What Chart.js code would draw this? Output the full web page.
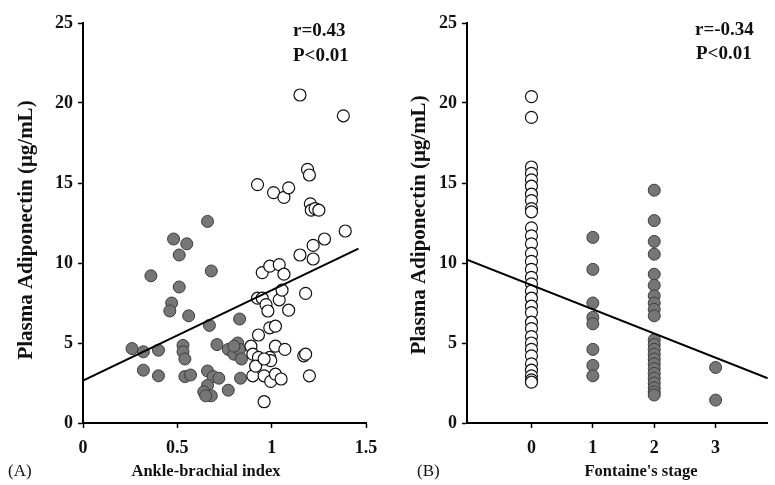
<!DOCTYPE html>
<html>
<head>
<meta charset="utf-8">
<title>Plasma adiponectin vs ABI and Fontaine's stage</title>
<script src="https://cdn.jsdelivr.net/npm/chart.js@4.4.0/dist/chart.umd.min.js"></script>
<style>
    body { margin: 0; background: #fff; }
    #wrap { position: relative; width: 775px; height: 485px; }
    canvas { position: absolute; top: 0; }
    #chartA { left: 0; }
    #chartB { left: 390px; }
</style>
</head>
<body>
<div id="wrap">
    <canvas id="chartA" width="390" height="485"></canvas>
    <canvas id="chartB" width="385" height="485"></canvas>
</div>
<script>
// Panel A: ankle-brachial index (x) vs plasma adiponectin (y)
const abiGrayX = [0.66, 0.48, 0.55, 0.51, 0.68, 0.36, 0.51, 0.47, 0.46, 0.56, 0.83, 0.67,
    0.26, 0.32, 0.40, 0.53, 0.53, 0.54, 0.71, 0.77, 0.80, 0.82, 0.83, 0.84, 0.80,
    0.32, 0.40, 0.54, 0.57, 0.66, 0.69, 0.72, 0.66, 0.64, 0.68, 0.65, 0.77, 0.835];
const abiGrayY = [12.6, 11.5, 11.2, 10.5, 9.5, 9.2, 8.5, 7.5, 7.0, 6.7, 6.5, 6.1,
    4.65, 4.45, 4.55, 4.85, 4.45, 4.0, 4.9, 4.6, 4.3, 5.0, 4.6, 4.0, 4.8,
    3.3, 2.95, 2.9, 3.0, 3.25, 2.9, 2.8, 2.35, 1.95, 1.7, 1.7, 2.05, 2.8];
const abiOpenX = [1.15, 1.38, 0.925, 1.01, 1.065, 1.09, 1.19, 1.20, 1.205, 1.21, 1.23, 1.25,
    1.39, 1.28, 1.22, 1.22, 1.15, 1.18, 0.95, 0.99, 1.04, 1.065, 0.925, 0.95, 0.97, 0.98,
    1.04, 1.055, 1.09, 0.99, 1.02, 0.93, 0.89, 0.90, 0.93, 0.99, 0.995, 1.02, 1.07, 1.17,
    1.18, 0.90, 0.915, 0.96, 0.995, 1.02, 1.05, 1.20, 0.96, 0.96];
const abiOpenY = [20.5, 19.2, 14.9, 14.4, 14.1, 14.7, 15.85, 15.5, 13.7, 13.3, 13.4, 13.3,
    12.0, 11.5, 11.1, 10.25, 10.5, 8.1, 9.4, 9.8, 9.9, 9.3, 7.8, 7.8, 7.4, 7.0,
    7.7, 8.3, 7.05, 5.95, 6.05, 5.5, 4.8, 4.3, 4.1, 4.1, 3.9, 4.8, 4.6, 4.2,
    4.3, 2.95, 3.55, 2.95, 2.6, 3.05, 2.75, 2.95, 1.33, 4.0];
const abiFitX = [0, 1.46];
const abiFitY = [2.65, 10.9];
const abiTicks = [0, 0.5, 1, 1.5];

// Panel B: Fontaine's stage (x) vs plasma adiponectin (y)
const stageTicks = [0, 1, 2, 3];
const stage0Open = [20.4, 19.1, 16.0, 15.6, 15.2, 14.8, 14.3, 13.9, 13.4, 13.2, 12.2, 11.7,
    11.2, 10.6, 10.1, 9.6, 9.1, 8.7, 8.25, 7.8, 7.3, 6.9, 6.3, 5.9, 5.4, 5.0, 4.6, 4.2,
    3.7, 3.3, 2.95, 2.7, 2.55];
const stage1Gray = [11.6, 9.6, 7.5, 6.6, 6.2, 4.6, 3.6, 2.95];
const stage2Gray = [14.55, 12.65, 11.35, 10.55, 9.3, 8.6, 7.95, 7.5, 7.1, 6.7, 5.2, 4.9,
    4.6, 4.3, 4.0, 3.7, 3.4, 3.1, 2.8, 2.5, 2.2, 1.95, 1.75];
const stage3Gray = [3.47, 1.43];
const stageFitX = [-1.05, 3.85];
const stageFitY = [10.2, 2.8];

const yTicks = [0, 5, 10, 15, 20, 25];

const SERIF = "'Liberation Serif', 'Times New Roman', serif";

function toPoints(xs, ys) {
    return xs.map((x, i) => ({ x: x, y: ys[i] }));
}

function column(x, ys) {
    return ys.map(y => ({ x: x, y: y }));
}

// draws the free texts (axis titles, panel letters, statistics)
const panelText = {
    id: 'panelText',
    afterDraw(chart, args, opts) {
        const ctx = chart.ctx;
        opts.items.forEach(t => {
            ctx.save();
            ctx.fillStyle = '#111';
            ctx.font = t.font;
            ctx.textAlign = t.align || 'left';
            ctx.textBaseline = 'middle';
            ctx.translate(t.x, t.y);
            if (t.rotate) ctx.rotate(t.rotate);
            ctx.fillText(t.text, 0, 0);
            ctx.restore();
        });
    }
};

function fitLine(data) {
    return {
        data: data,
        showLine: true,
        borderColor: '#000',
        borderWidth: 2,
        pointRadius: 0,
        order: 0
    };
}

function openDots(data) {
    return {
        data: data,
        backgroundColor: '#fff',
        borderColor: '#111',
        borderWidth: 1.2,
        pointRadius: 6,
        order: 1
    };
}

function grayDots(data) {
    return {
        data: data,
        backgroundColor: '#767676',
        borderColor: '#3c3c3c',
        borderWidth: 1,
        pointRadius: 6,
        order: 2
    };
}

function makeOptions(xMin, xMax, xTicks, yAxisWidth, padRight, texts) {
    const tickFont = { family: SERIF, weight: 'bold', size: 18 };
    return {
        responsive: false,
        animation: false,
        layout: { padding: { left: 0, right: padRight, top: 23, bottom: 0 } },
        plugins: {
            legend: { display: false },
            tooltip: { enabled: false },
            panelText: { items: texts }
        },
        scales: {
            x: {
                type: 'linear',
                min: xMin,
                max: xMax,
                afterBuildTicks: scale => { scale.ticks = xTicks.map(v => ({ value: v })); },
                afterFit: scale => { scale.height = 62; },
                ticks: {
                    color: '#111',
                    font: tickFont,
                    padding: 10,
                    maxRotation: 0,
                    callback: v => String(v)
                },
                grid: { drawOnChartArea: false, drawTicks: true, tickLength: 5, tickColor: '#000', tickWidth: 1.5 },
                border: { color: '#000', width: 2 }
            },
            y: {
                min: 0,
                max: 25,
                afterBuildTicks: scale => { scale.ticks = yTicks.map(v => ({ value: v })); },
                afterFit: scale => { scale.width = yAxisWidth; },
                ticks: { color: '#111', font: tickFont, padding: 5 },
                grid: { drawOnChartArea: false, drawTicks: true, tickLength: 5, tickColor: '#000', tickWidth: 1.5 },
                border: { color: '#000', width: 2 }
            }
        }
    };
}

const titleFont = 'bold 16.5px ' + SERIF;
const yTitleFont = 'bold 21px ' + SERIF;
const statFont = 'bold 19px ' + SERIF;
const letterFont = '17px ' + SERIF;

new Chart(document.getElementById('chartA'), {
    type: 'scatter',
    data: {
        datasets: [
            fitLine(toPoints(abiFitX, abiFitY)),
            openDots(toPoints(abiOpenX, abiOpenY)),
            grayDots(toPoints(abiGrayX, abiGrayY))
        ]
    },
    options: makeOptions(0, 1.5, abiTicks, 83, 24, [
        { text: 'r=0.43', x: 293, y: 31, font: statFont },
        { text: 'P<0.01', x: 293, y: 56, font: statFont },
        { text: 'Plasma Adiponectin (\u03bcg/mL)', x: 27, y: 230, font: yTitleFont, align: 'center', rotate: -Math.PI / 2 },
        { text: 'Ankle-brachial index', x: 206, y: 472, font: titleFont, align: 'center' },
        { text: '(A)', x: 8, y: 472, font: letterFont }
    ]),
    plugins: [panelText]
});

new Chart(document.getElementById('chartB'), {
    type: 'scatter',
    data: {
        datasets: [
            fitLine(toPoints(stageFitX, stageFitY)),
            openDots(column(stageTicks[0], stage0Open)),
            grayDots(column(stageTicks[1], stage1Gray)
                .concat(column(stageTicks[2], stage2Gray))
                .concat(column(stageTicks[3], stage3Gray)))
        ]
    },
    options: makeOptions(-1.05, 3.85, stageTicks, 77, 0, [
        { text: 'r=-0.34', x: 305, y: 30, font: statFont },
        { text: 'P<0.01', x: 306, y: 54, font: statFont },
        { text: 'Plasma Adiponectin (\u03bcg/mL)', x: 30, y: 225, font: yTitleFont, align: 'center', rotate: -Math.PI / 2 },
        { text: "Fontaine's stage", x: 251, y: 472, font: titleFont, align: 'center' },
        { text: '(B)', x: 27, y: 472, font: letterFont }
    ]),
    plugins: [panelText]
});
</script>
</body>
</html>
